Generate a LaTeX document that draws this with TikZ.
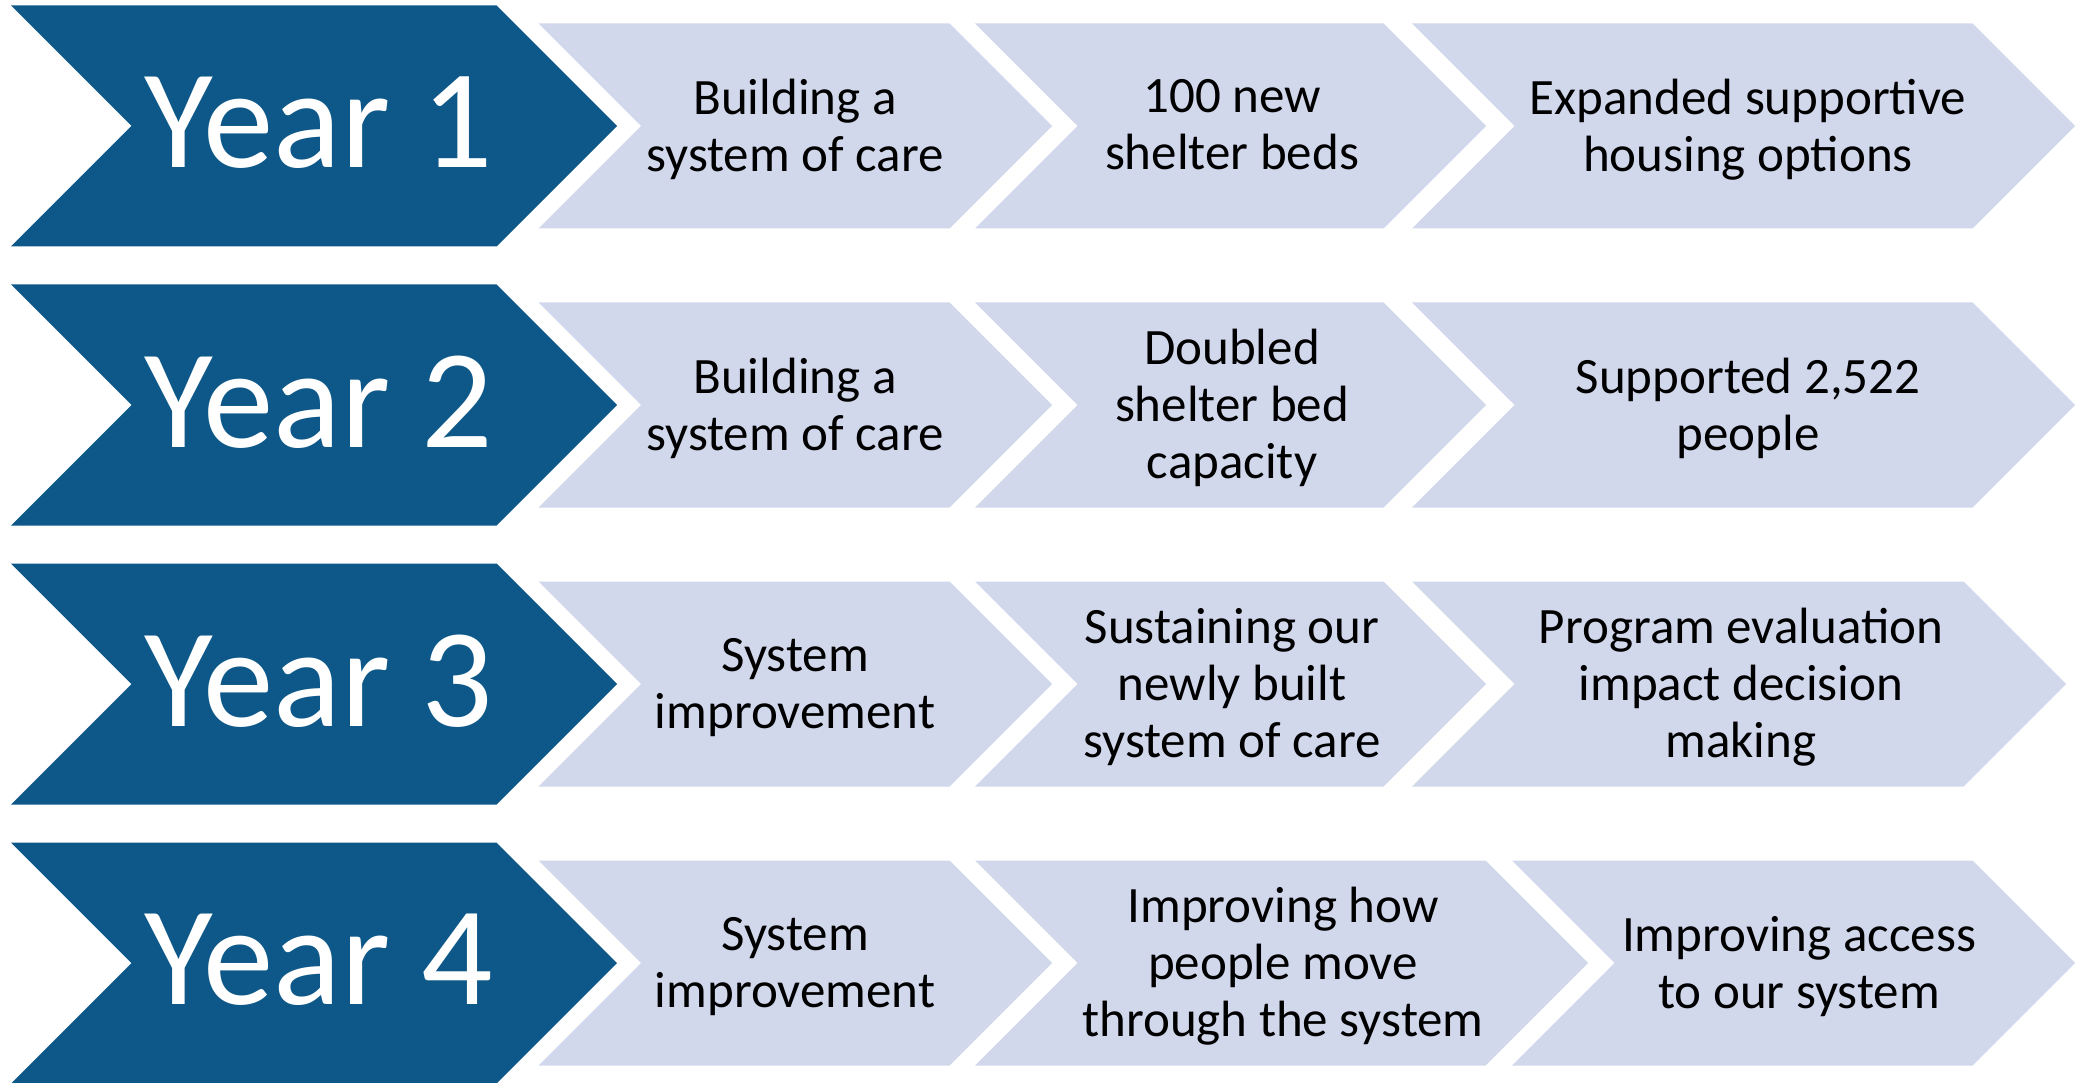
\documentclass[tikz,border=0pt]{standalone}
\usepackage{fontspec}
\setmainfont{Carlito}
\definecolor{darkchev}{HTML}{0D5888}
\definecolor{lightchev}{HTML}{D1D8EC}
% #1 colour, #2 left x, #3 tip x, #4 centre y, #5 half height (= notch depth)
\newcommand{\mychev}[5]{%
  \fill[#1] (#2,{#4-#5}) -- ({#3-#5},{#4-#5}) -- (#3,#4) -- ({#3-#5},{#4+#5})
    -- (#2,{#4+#5}) -- ({#2+#5},#4) -- cycle;}
\begin{document}
\begin{tikzpicture}[x=1pt,y=-1pt,
  yr/.style={inner sep=0pt, text=white, font=\fontsize{141}{169}\selectfont},
  txt/.style={inner sep=0pt, align=center, text=black,
    font=\fontsize{51}{57}\selectfont,
    execute at begin node=\strut, execute at end node=\strut}]
\useasboundingbox (0,0) rectangle (2075,1083);
\fill[white] (0,0) rectangle (2075,1083);

% ---- Row 1 ----
\mychev{darkchev}{11}{617}{126}{120.5}
\mychev{lightchev}{538.5}{1052}{126}{102.5}
\mychev{lightchev}{975}{1486}{126}{102.5}
\mychev{lightchev}{1412}{2075}{126}{102.5}
\node[yr]  (y1) at (319,123) {Year 1};
\node[txt] (a1) at (795,133.5) {Building a\\system of care};
\node[txt] (b1) at (1232,133.5) {100 new\\shelter beds};
\node[txt] (c1) at (1748,133.5) {Expanded supportive\\housing options};

% ---- Row 2 ----
\mychev{darkchev}{11}{617}{405}{120.5}
\mychev{lightchev}{538.5}{1052}{405}{102.5}
\mychev{lightchev}{975}{1486}{405}{102.5}
\mychev{lightchev}{1412}{2075}{405}{102.5}
\node[yr]  (y2) at (319,402) {Year 2};
\node[txt] (a2) at (795,412.5) {Building a\\system of care};
\node[txt] (b2) at (1232,412.5) {Doubled\\shelter bed\\capacity};
\node[txt] (c2) at (1748,412.5) {Supported 2,522\\people};

% ---- Row 3 ----
\mychev{darkchev}{11}{617}{684}{120.5}
\mychev{lightchev}{538.5}{1052}{684}{102.5}
\mychev{lightchev}{975}{1486}{684}{102.5}
\mychev{lightchev}{1412}{2066}{684}{102.5}
\node[yr]  (y3) at (319,681) {Year 3};
\node[txt] (a3) at (795,691.5) {System\\improvement};
\node[txt] (b3) at (1232,691.5) {Sustaining our\\newly built\\system of care};
\node[txt] (c3) at (1741,691.5) {Program evaluation\\impact decision\\making};

% ---- Row 4 ----
\mychev{darkchev}{11}{617}{963}{120.5}
\mychev{lightchev}{538.5}{1052}{963}{102.5}
\mychev{lightchev}{975}{1588}{963}{102.5}
\mychev{lightchev}{1512}{2075}{963}{102.5}
\node[yr]  (y4) at (319,960) {Year 4};
\node[txt] (a4) at (795,970.5) {System\\improvement};
\node[txt] (b4) at (1283,970.5) {Improving how\\people move\\through the system};
\node[txt] (c4) at (1799,970.5) {Improving access\\to our system};
\end{tikzpicture}
\end{document}
